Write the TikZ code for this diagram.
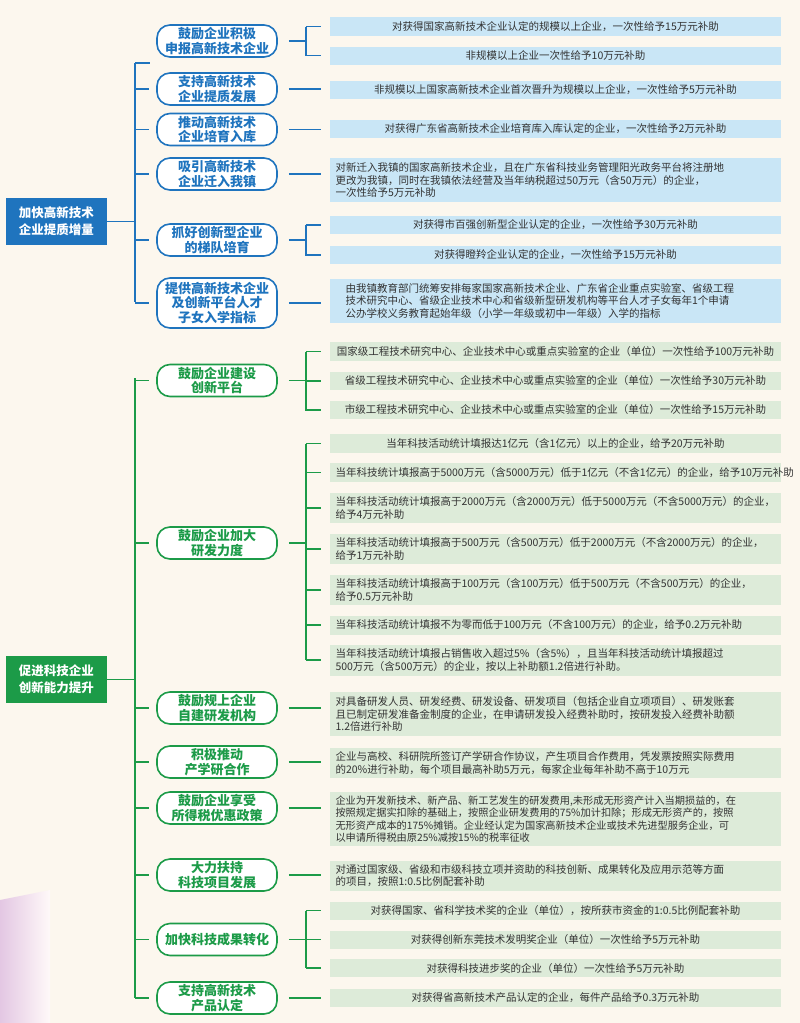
\documentclass[tikz,border=0pt]{standalone}
\usepackage{fontspec}
\setmainfont{Noto Sans CJK SC}
\definecolor{bl}{HTML}{1F74BE}
\definecolor{blf}{HTML}{C9E6F6}
\definecolor{gr}{HTML}{1C9B48}
\definecolor{grf}{HTML}{DDEBD9}
\definecolor{bg}{HTML}{FCF7EE}
\definecolor{tx}{HTML}{333333}
\tikzset{
  base/.style={x=1pt,y=-1pt},
  catb/.style={draw=bl,line width=1.6pt,rounded corners=13pt,fill=white,minimum width=120pt,text width=118pt,align=center,inner sep=0pt,text=bl,font=\fontsize{13}{14.5}\selectfont\bfseries},
  catg/.style={catb,draw=gr,text=gr},
  leafb/.style={fill=blf,minimum width=451pt,text width=440pt,inner xsep=5.5pt,inner ysep=0pt,align=center,text=tx,font=\fontsize{10.5}{12.5}\selectfont},
  leafg/.style={leafb,fill=grf},
  lft/.style={align=left},
  conb/.style={draw=bl,line width=1.8pt},
  cong/.style={draw=gr,line width=1.8pt},
  rootb/.style={fill=bl,minimum width=101pt,text width=101pt,align=center,text=white,inner sep=0pt,font=\fontsize{12.5}{17}\selectfont\bfseries}
}
\begin{document}
\begin{tikzpicture}[base]
\fill[bg] (0,0) rectangle (800,1023);
\shade[left color=violet!22,right color=pink!10] (0,900) -- (50,890) -- (50,1023) -- (0,1023) -- cycle;
\useasboundingbox (0,0) rectangle (800,1023);
% ===== blue =====
\node[rootb,minimum height=47pt] (r1) at (56.5,221.5) {加快高新技术\\企业提质增量};
\coordinate (bt) at (135,63); \coordinate (bb) at (135,302);
\draw[conb] (r1.east) -- (r1.east -| bt);
\draw[conb] (bt) -- (bb);
\node[catb,minimum height=32pt] (c1) at (217,41) {鼓励企业积极\\申报高新技术企业};
\node[catb,minimum height=32pt] (c2) at (217,89) {支持高新技术\\企业提质发展};
\node[catb,minimum height=32pt] (c3) at (217,129.5) {推动高新技术\\企业培育入库};
\node[catb,minimum height=32pt] (c4) at (217,174) {吸引高新技术\\企业迁入我镇};
\node[catb,minimum height=32pt] (c5) at (217,240) {抓好创新型企业\\的梯队培育};
\node[catb,minimum height=50pt] (c6) at (217,303) {提供高新技术企业\\及创新平台人才\\子女入学指标};
\draw[conb] (bt) -- ++(15,0);
\foreach \c in {c2,c3,c4,c5,c6} \draw[conb] (\c.west -| bt) -- ([xshift=-7pt]\c.west);
\node[leafb,minimum height=19pt] (l1a) at (555.5,26.5) {对获得国家高新技术企业认定的规模以上企业，一次性给予15万元补助};
\node[leafb,minimum height=18pt] (l1b) at (555.5,55.5) {非规模以上企业一次性给予10万元补助};
\node[leafb,minimum height=18pt] (l2) at (555.5,90) {非规模以上国家高新技术企业首次晋升为规模以上企业，一次性给予5万元补助};
\node[leafb,minimum height=18pt] (l3) at (555.5,129) {对获得广东省高新技术企业培育库入库认定的企业，一次性给予2万元补助};
\node[leafb,lft,minimum height=44pt] (l4) at (555.5,180) {对新迁入我镇的国家高新技术企业，且在广东省科技业务管理阳光政务平台将注册地\\更改为我镇，同时在我镇依法经营及当年纳税超过50万元（含50万元）的企业，\\一次性给予5万元补助};
\node[leafb,minimum height=18pt] (l5a) at (555.5,225) {对获得市百强创新型企业认定的企业，一次性给予30万元补助};
\node[leafb,minimum height=18pt] (l5b) at (555.5,255) {对获得瞪羚企业认定的企业，一次性给予15万元补助};
\node[leafb,lft,minimum height=44pt,text width=420pt,inner xsep=15.5pt] (l6) at (555.5,301) {由我镇教育部门统筹安排每家国家高新技术企业、广东省企业重点实验室、省级工程\\技术研究中心、省级企业技术中心和省级新型研发机构等平台人才子女每年1个申请\\公办学校义务教育起始年级（小学一年级或初中一年级）入学的指标};
% brackets
\draw[conb] ([xshift=11pt]c1.east) -- ([xshift=29pt]c1.east);
\draw[conb] ([xshift=-24pt]l1a.west) -- ([xshift=-9pt]l1a.west);
\draw[conb] ([xshift=-24pt]l1a.west) -- ([xshift=-24pt]l1b.west) -- ([xshift=-9pt]l1b.west);
\draw[conb] ([xshift=11pt]c2.east) -- ([xshift=-9pt]l2.west |- c2.east);
\draw[conb] ([xshift=11pt]c3.east) -- ([xshift=-9pt]l3.west |- c3.east);
\draw[conb] ([xshift=11pt]c4.east) -- ([xshift=-9pt]l4.west |- c4.east);
\draw[conb] ([xshift=11pt]c5.east) -- ([xshift=29pt]c5.east);
\draw[conb] ([xshift=-24pt]l5a.west) -- ([xshift=-9pt]l5a.west);
\draw[conb] ([xshift=-24pt]l5a.west) -- ([xshift=-24pt]l5b.west) -- ([xshift=-9pt]l5b.west);
\draw[conb] ([xshift=11pt]c6.east) -- ([xshift=-9pt]l6.west |- c6.east);
% ===== green =====
\node[rootb,fill=gr,minimum height=47pt] (r2) at (56.5,679.5) {促进科技企业\\创新能力提升};
\coordinate (gt) at (135,378); \coordinate (gb) at (135,998);
\draw[cong] (gt) -- (gb);
\draw[cong] (r2.east) -- (r2.east -| gt);
\node[catg,minimum height=32pt] (g1) at (217,380.5) {鼓励企业建设\\创新平台};
\node[catg,minimum height=32pt] (g2) at (217,543) {鼓励企业加大\\研发力度};
\node[catg,minimum height=32pt] (g3) at (217,708) {鼓励规上企业\\自建研发机构};
\node[catg,minimum height=32pt] (g4) at (217,762) {积极推动\\产学研合作};
\node[catg,minimum height=32pt] (g5) at (217,808) {鼓励企业享受\\所得税优惠政策};
\node[catg,minimum height=32pt] (g6) at (217,875) {大力扶持\\科技项目发展};
\node[catg,minimum height=32pt] (g7) at (217,939.5) {加快科技成果转化};
\node[catg,minimum height=32pt] (g8) at (217,998) {支持高新技术\\产品认定};
\foreach \c in {g1,g2,g3,g4,g5,g6,g7,g8} \draw[cong] (\c.west -| gt) -- ([xshift=-7pt]\c.west);
\node[leafg,minimum height=19pt] (m1a) at (555.5,351.5) {国家级工程技术研究中心、企业技术中心或重点实验室的企业（单位）一次性给予100万元补助};
\node[leafg,minimum height=18pt] (m1b) at (555.5,381) {省级工程技术研究中心、企业技术中心或重点实验室的企业（单位）一次性给予30万元补助};
\node[leafg,minimum height=18pt] (m1c) at (555.5,410) {市级工程技术研究中心、企业技术中心或重点实验室的企业（单位）一次性给予15万元补助};
\draw[cong] ([xshift=11pt]g1.east) -- ([xshift=29pt]g1.east);
\draw[cong] ([xshift=-24pt]m1a.west) -- ([xshift=-9pt]m1a.west);
\draw[cong] ([xshift=-24pt]m1b.west) -- ([xshift=-9pt]m1b.west);
\draw[cong] ([xshift=-24pt]m1a.west) -- ([xshift=-24pt]m1c.west) -- ([xshift=-9pt]m1c.west);
\node[leafg,minimum height=19pt] (m2a) at (555.5,443.5) {当年科技活动统计填报达1亿元（含1亿元）以上的企业，给予20万元补助};
\node[leafg,minimum height=19pt] (m2b) at (555.5,472.5) {当年科技统计填报高于5000万元（含5000万元）低于1亿元（不含1亿元）的企业，给予10万元补助};
\node[leafg,lft,minimum height=30pt] (m2c) at (555.5,508) {当年科技活动统计填报高于2000万元（含2000万元）低于5000万元（不含5000万元）的企业，\\给予4万元补助};
\node[leafg,lft,minimum height=30pt] (m2d) at (555.5,549) {当年科技活动统计填报高于500万元（含500万元）低于2000万元（不含2000万元）的企业，\\给予1万元补助};
\node[leafg,lft,minimum height=30pt] (m2e) at (555.5,590) {当年科技活动统计填报高于100万元（含100万元）低于500万元（不含500万元）的企业，\\给予0.5万元补助};
\node[leafg,lft,minimum height=19pt] (m2f) at (555.5,625) {当年科技活动统计填报不为零而低于100万元（不含100万元）的企业，给予0.2万元补助};
\node[leafg,lft,minimum height=31pt] (m2g) at (555.5,660) {当年科技活动统计填报占销售收入超过5\%（含5\%），且当年科技活动统计填报超过\\500万元（含500万元）的企业，按以上补助额1.2倍进行补助。};
\draw[cong] ([xshift=11pt]g2.east) -- ([xshift=29pt]g2.east);
\draw[cong] ([xshift=-24pt]m2a.west) -- ([xshift=-24pt]m2g.west);
\foreach \m in {m2a,m2b,m2c,m2d,m2e,m2f,m2g} \draw[cong] ([xshift=-24pt]\m.west) -- ([xshift=-9pt]\m.west);
\node[leafg,lft,minimum height=44pt] (m3) at (555.5,714) {对具备研发人员、研发经费、研发设备、研发项目（包括企业自立项项目）、研发账套\\且已制定研发准备金制度的企业，在申请研发投入经费补助时，按研发投入经费补助额\\1.2倍进行补助};
\node[leafg,lft,minimum height=30pt] (m4) at (555.5,763) {企业与高校、科研院所签订产学研合作协议，产生项目合作费用，凭发票按照实际费用\\的20\%进行补助，每个项目最高补助5万元，每家企业每年补助不高于10万元};
\node[leafg,lft,minimum height=54pt,font=\fontsize{10.2}{12.3}\selectfont] (m5) at (555.5,819) {企业为开发新技术、新产品、新工艺发生的研发费用,未形成无形资产计入当期损益的，在\\按照规定据实扣除的基础上，按照企业研发费用的75\%加计扣除；形成无形资产的，按照\\无形资产成本的175\%摊销。企业经认定为国家高新技术企业或技术先进型服务企业，可\\以申请所得税由原25\%减按15\%的税率征收};
\node[leafg,lft,minimum height=30pt] (m6) at (555.5,875.5) {对通过国家级、省级和市级科技立项并资助的科技创新、成果转化及应用示范等方面\\的项目，按照1:0.5比例配套补助};
\foreach \c/\m in {g3/m3,g4/m4,g5/m5,g6/m6} \draw[cong] ([xshift=11pt]\c.east) -- ([xshift=-9pt]\m.west |- \c.east);
\node[leafg,minimum height=18pt] (m7a) at (555.5,910.5) {对获得国家、省科学技术奖的企业（单位），按所获市资金的1:0.5比例配套补助};
\node[leafg,minimum height=18pt] (m7b) at (555.5,939.5) {对获得创新东莞技术发明奖企业（单位）一次性给予5万元补助};
\node[leafg,minimum height=18pt] (m7c) at (555.5,968) {对获得科技进步奖的企业（单位）一次性给予5万元补助};
\draw[cong] ([xshift=11pt]g7.east) -- ([xshift=29pt]g7.east);
\draw[cong] ([xshift=-24pt]m7a.west) -- ([xshift=-24pt]m7c.west);
\foreach \m in {m7a,m7b,m7c} \draw[cong] ([xshift=-24pt]\m.west) -- ([xshift=-9pt]\m.west);
\node[leafg,minimum height=18pt] (m8) at (555.5,998) {对获得省高新技术产品认定的企业，每件产品给予0.3万元补助};
\draw[cong] ([xshift=11pt]g8.east) -- ([xshift=-9pt]m8.west |- g8.east);
\end{tikzpicture}
\end{document}
